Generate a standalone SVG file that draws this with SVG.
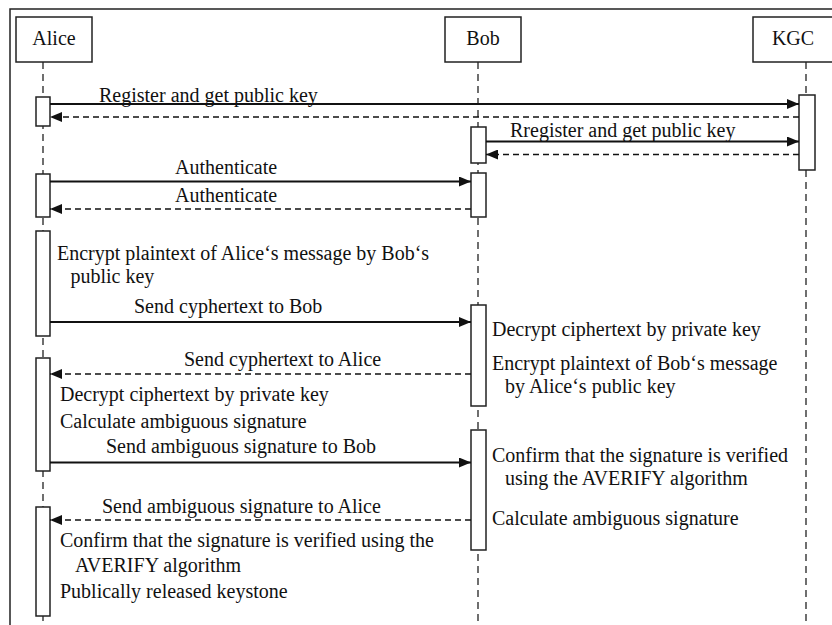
<svg xmlns="http://www.w3.org/2000/svg" width="832" height="625" viewBox="0 0 832 625">
<style>
text{font-family:"Liberation Serif","Times New Roman",serif;font-size:20px;fill:#111}
.box{fill:#fff;stroke:#222;stroke-width:1.5}
.act{fill:#fff;stroke:#222;stroke-width:1.5}
.life{stroke:#222;stroke-width:1.3;stroke-dasharray:7 5;fill:none}
.msg{stroke:#111;stroke-width:2;fill:none;marker-end:url(#ah)}
.ret{stroke:#111;stroke-width:1.6;stroke-dasharray:6 4;fill:none;marker-end:url(#ah)}
.mid{text-anchor:middle}
</style>
<defs>
<marker id="ah" viewBox="0 0 12 10" refX="12" refY="5" markerWidth="12" markerHeight="10" markerUnits="userSpaceOnUse" orient="auto">
<path d="M0,0 L12,5 L0,10 z" fill="#111"/>
</marker>
</defs>
<rect x="10" y="9" width="830" height="630" fill="#fff" stroke="#222" stroke-width="1.5"/>
<g id="lifelines">
<line class="life" x1="43" y1="62" x2="43" y2="625"/>
<line class="life" x1="478" y1="62" x2="478" y2="625"/>
<line class="life" x1="806" y1="62" x2="806" y2="625"/>
</g>
<g id="alice">
<rect class="box" x="16" y="17" width="76" height="45"/>
<text class="mid" x="54" y="45">Alice</text>
<rect class="act" x="36" y="97" width="14" height="29"/>
<rect class="act" x="36" y="174" width="14" height="43"/>
<rect class="act" x="36" y="231" width="14" height="105"/>
<rect class="act" x="36" y="358" width="14" height="113"/>
<rect class="act" x="36" y="507" width="14" height="109"/>
</g>
<g id="bob">
<rect class="box" x="445" y="17" width="76" height="45"/>
<text class="mid" x="483" y="45">Bob</text>
<rect class="act" x="471" y="127" width="15" height="36"/>
<rect class="act" x="471" y="173" width="15" height="44"/>
<rect class="act" x="471" y="305" width="15" height="101"/>
<rect class="act" x="471" y="430" width="15" height="120"/>
</g>
<g id="kgc">
<rect class="box" x="753" y="17" width="90" height="45"/>
<text class="mid" x="793" y="45">KGC</text>
<rect class="act" x="799" y="95" width="16" height="75"/>
</g>
<g id="connectors">
<line class="msg" x1="50" y1="104" x2="799" y2="104"/>
<line class="ret" x1="799" y1="117" x2="50" y2="117"/>
<line class="msg" x1="486" y1="141.5" x2="799" y2="141.5"/>
<line class="ret" x1="799" y1="154.5" x2="486" y2="154.5"/>
<line class="msg" x1="50" y1="181.5" x2="471" y2="181.5"/>
<line class="ret" x1="471" y1="209" x2="50" y2="209"/>
<line class="msg" x1="50" y1="322" x2="471" y2="322"/>
<line class="ret" x1="471" y1="374" x2="50" y2="374"/>
<line class="msg" x1="50" y1="462.5" x2="471" y2="462.5"/>
<line class="ret" x1="471" y1="520" x2="50" y2="520"/>
</g>
<g id="labels">
<text x="99" y="102">Register and get public key</text>
<text x="510" y="136.5">Rregister and get public key</text>
<text x="175" y="174">Authenticate</text>
<text x="175" y="202">Authenticate</text>
<text x="57" y="260">Encrypt plaintext of Alice‘s message by Bob‘s</text>
<text x="70.5" y="283">public key</text>
<text x="134" y="313">Send cyphertext to Bob</text>
<text x="492" y="336">Decrypt ciphertext by private key</text>
<text x="184" y="366">Send cyphertext to Alice</text>
<text x="492" y="370">Encrypt plaintext of Bob‘s message</text>
<text x="505" y="393">by Alice‘s public key</text>
<text x="60" y="401">Decrypt ciphertext by private key</text>
<text x="60" y="428">Calculate ambiguous signature</text>
<text x="106" y="453">Send ambiguous signature to Bob</text>
<text x="492" y="462">Confirm that the signature is verified</text>
<text x="505" y="485">using the AVERIFY algorithm</text>
<text x="102" y="513">Send ambiguous signature to Alice</text>
<text x="492" y="525">Calculate ambiguous signature</text>
<text x="60" y="547">Confirm that the signature is verified using the</text>
<text x="75" y="572">AVERIFY algorithm</text>
<text x="60" y="598">Publically released keystone</text>
</g>
</svg>
